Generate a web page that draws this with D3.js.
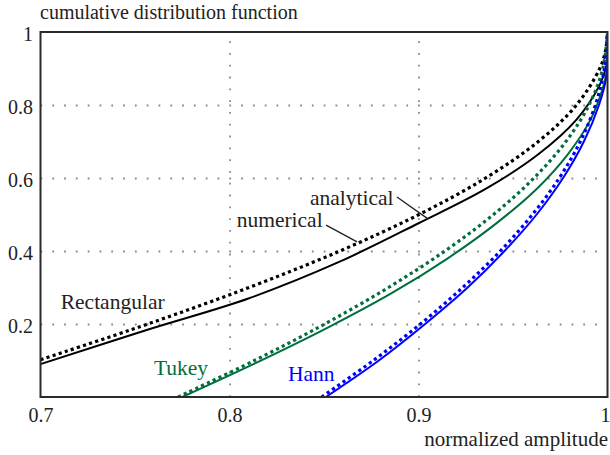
<!DOCTYPE html>
<html>
<head>
<meta charset="utf-8">
<script src="https://cdn.jsdelivr.net/npm/d3@7"></script>
<style>
  body { margin: 0; background: #fff; }
  svg { display: block; }
  svg text { font-family: "Liberation Serif", "Times New Roman", "DejaVu Serif", serif; }
</style>
</head>
<body>
<svg id="viz"></svg>
<script>
// [normalized amplitude, cdf] pairs
var rectAnalytical = [[0.7, 0.102], [0.7568, 0.2], [0.8103, 0.3], [0.8584, 0.4], [0.9003, 0.5], [0.9355, 0.6], [0.9634, 0.7], [0.9836, 0.8], [0.9959, 0.9], [0.999, 0.95], [1, 1]];
var rectNumerical = [[0.7, 0.09], [0.757, 0.185], [0.81, 0.27], [0.858, 0.37], [0.9, 0.476], [0.9355, 0.57], [0.9634, 0.665], [0.9836, 0.76], [0.9959, 0.855], [0.9995, 0.91], [1, 0.96]];
var tukeyAnalytical = [[0.7728, 0], [0.8132, 0.1], [0.8504, 0.2], [0.8841, 0.3], [0.914, 0.4], [0.9397, 0.5], [0.9611, 0.6], [0.978, 0.7], [0.9902, 0.8], [0.9975, 0.9], [1, 1]];
var tukeyNumerical = [[0.775, 0], [0.8135, 0.092], [0.852, 0.19], [0.886, 0.285], [0.9155, 0.38], [0.941, 0.475], [0.9625, 0.57], [0.979, 0.665], [0.991, 0.76], [0.998, 0.855], [0.9998, 0.9], [1, 0.95]];
var hannAnalytical = [[0.8488, 0], [0.8761, 0.1], [0.901, 0.2], [0.9234, 0.3], [0.9433, 0.4], [0.9603, 0.5], [0.9745, 0.6], [0.9856, 0.7], [0.9936, 0.8], [0.9984, 0.9], [1, 1]];
var hannNumerical = [[0.851, 0], [0.879, 0.1], [0.9035, 0.2], [0.926, 0.3], [0.9455, 0.4], [0.9625, 0.5], [0.9765, 0.6], [0.9875, 0.7], [0.9955, 0.8], [0.9995, 0.88], [1, 0.92]];

var xTicks = [0.7, 0.8, 0.9, 1];
var yTicks = [0.2, 0.4, 0.6, 0.8, 1];
var xGrid = [0.8, 0.9];
var yGrid = [0.2, 0.4, 0.6, 0.8];

var width = 610;
var height = 455;
var margin = {top: 32, right: 2.5, bottom: 58, left: 40.5};
var innerW = width - margin.left - margin.right;
var innerH = height - margin.top - margin.bottom;

var svg = d3.select("#viz")
	.attr("width", width)
	.attr("height", height);

var x = d3.scaleLinear().domain([0.7, 1]).range([0, innerW]);
var y = d3.scaleLinear().domain([0, 1]).range([innerH, 0]);

var g = svg.append("g").attr("transform", "translate(" + margin.left + "," + margin.top + ")");

svg.append("defs").append("clipPath").attr("id", "plot-clip")
	.append("rect").attr("width", innerW).attr("height", innerH);

// dotted grid
g.append("g")
	.attr("transform", "translate(0," + innerH + ")")
	.call(d3.axisBottom(x).tickValues(xGrid).tickSize(-innerH).tickFormat(""))
	.call(a => a.select(".domain").remove())
	.selectAll("line")
	.attr("stroke", "#8a8a8a").attr("stroke-width", 1.8).attr("stroke-dasharray", "1.8 10");

g.append("g")
	.call(d3.axisLeft(y).tickValues(yGrid).tickSize(-innerW).tickFormat(""))
	.call(a => a.select(".domain").remove())
	.selectAll("line")
	.attr("stroke", "#8a8a8a").attr("stroke-width", 1.8).attr("stroke-dasharray", "1.8 10");

// curves
var line = d3.line()
	.x(d => x(d[0]))
	.y(d => y(d[1]))
	.curve(d3.curveCatmullRom.alpha(0.5));

var black = "#000000", green = "#006f3c", blue = "#0000ff";

var curves = [
	{data: rectNumerical, color: black, dotted: false},
	{data: tukeyNumerical, color: green, dotted: false},
	{data: hannNumerical, color: blue, dotted: false},
	{data: rectAnalytical, color: black, dotted: true},
	{data: tukeyAnalytical, color: green, dotted: true},
	{data: hannAnalytical, color: blue, dotted: true}
];

g.append("g").attr("clip-path", "url(#plot-clip)")
	.selectAll("path")
	.data(curves)
	.join("path")
	.attr("fill", "none")
	.attr("stroke", d => d.color)
	.attr("stroke-width", d => d.dotted ? 3.2 : 2)
	.attr("stroke-dasharray", d => d.dotted ? "3.2 3.2" : null)
	.attr("d", d => line(d.data));

// frame
g.append("rect")
	.attr("width", innerW).attr("height", innerH)
	.attr("fill", "none").attr("stroke", "#2b2b2b").attr("stroke-width", 2);

// tick labels
var fmt = d3.format("~g");
g.append("g")
	.attr("transform", "translate(0," + innerH + ")")
	.call(d3.axisBottom(x).tickValues(xTicks).tickSize(0).tickPadding(10.8).tickFormat(fmt))
	.call(a => a.select(".domain").remove())
	.call(a => a.attr("font-family", null))
	.selectAll("text")
	.attr("font-size", 20).attr("fill", "#222")
	.attr("dx", d => d === 1 ? -2.5 : 0);

g.append("g")
	.call(d3.axisLeft(y).tickValues(yTicks).tickSize(0).tickPadding(7.5).tickFormat(fmt))
	.call(a => a.select(".domain").remove())
	.call(a => a.attr("font-family", null))
	.selectAll("text")
	.attr("font-size", 20).attr("fill", "#222").attr("dy", "0.4em");

svg.append("text")
	.attr("x", 40).attr("y", 19)
	.attr("font-size", 20).attr("fill", "#222")
	.text("cumulative distribution function");

svg.append("text")
	.attr("x", 608).attr("y", 446).attr("text-anchor", "end")
	.attr("font-size", 21).attr("fill", "#222")
	.text("normalized amplitude");

// curve labels
var labels = [
	{text: "Rectangular", a: 0.7107, v: 0.241, color: "#222"},
	{text: "analytical", a: 0.8426, v: 0.526, color: "#222"},
	{text: "numerical", a: 0.8038, v: 0.465, color: "#222"},
	{text: "Tukey", a: 0.7600, v: 0.060, color: green},
	{text: "Hann", a: 0.8309, v: 0.045, color: blue}
];

g.selectAll(".curve-label")
	.data(labels)
	.join("text")
	.attr("class", "curve-label")
	.attr("x", d => x(d.a))
	.attr("y", d => y(d.v))
	.attr("font-size", 21.5)
	.attr("fill", d => d.color)
	.text(d => d.text);

// pointers from labels to lines
var pointers = [
	[[0.8886, 0.548], [0.9050, 0.488]],
	[[0.8511, 0.471], [0.8675, 0.425]]
];
g.selectAll(".pointer")
	.data(pointers)
	.join("line")
	.attr("class", "pointer")
	.attr("x1", d => x(d[0][0]))
	.attr("y1", d => y(d[0][1]))
	.attr("x2", d => x(d[1][0]))
	.attr("y2", d => y(d[1][1]))
	.attr("stroke", "#222").attr("stroke-width", 1.3);
</script>
</body>
</html>
